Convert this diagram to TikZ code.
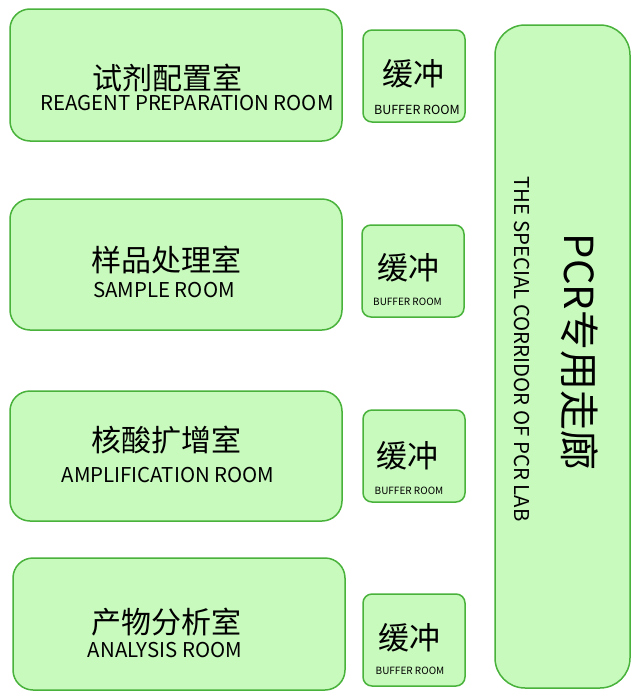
\documentclass[tikz,border=0pt]{standalone}
\usepackage{fontspec}
\setmainfont{Noto Sans CJK SC}
\begin{document}
\begin{tikzpicture}[x=1pt,y=-1pt,
  room/.style={draw=roomline,fill=roomfill,line width=1.5pt,rounded corners=20pt},
  buf/.style={draw=roomline,fill=roomfill,line width=1.5pt,rounded corners=9pt},
  cn/.style={font=\fontsize{30}{33}\selectfont,inner sep=0pt},
  en/.style={font=\fontsize{20.4}{22}\selectfont,inner sep=0pt},
  bcn/.style={font=\fontsize{31}{34}\selectfont,inner sep=0pt},
  ben/.style={font=\fontsize{10}{11}\selectfont,inner sep=0pt}]
\definecolor{roomfill}{RGB}{200,249,189}
\definecolor{roomline}{RGB}{72,178,58}
\useasboundingbox (0,0) rectangle (638,699);
% rooms
\draw[room] (10,9) rectangle (342,141);
\draw[room] (10,199) rectangle (342,330);
\draw[room] (10,391) rectangle (342,521);
\draw[room] (13,558) rectangle (345,690);
\node[cn] (r1c) at (167,78) {试剂配置室};
\node[en] (r1e) at (187,103) {REAGENT PREPARATION ROOM};
\node[cn] (r2c) at (166,260) {样品处理室};
\node[en] (r2e) at (164,290) {SAMPLE ROOM};
\node[cn] (r3c) at (166,440) {核酸扩增室};
\node[en] (r3e) at (168,475) {AMPLIFICATION ROOM};
\node[cn] (r4c) at (166,622) {产物分析室};
\node[en] (r4e) at (165,650) {ANALYSIS ROOM};
% buffers
\draw[buf] (363,30) rectangle (465,122);
\draw[buf] (362,225) rectangle (464,317);
\draw[buf] (363,410) rectangle (465,502);
\draw[buf] (363,594) rectangle (465,686);
\node[bcn] (b1c) at (413,74) {缓冲};
\node[ben,font=\fontsize{12.5}{14}\selectfont] (b1e) at (417,110) {BUFFER ROOM};
\node[bcn] (b2c) at (408,268) {缓冲};
\node[ben] (b2e) at (407.5,302) {BUFFER ROOM};
\node[bcn] (b3c) at (407,456) {缓冲};
\node[ben] (b3e) at (409,491) {BUFFER ROOM};
\node[bcn] (b4c) at (409,638) {缓冲};
\node[ben] (b4e) at (410,671) {BUFFER ROOM};
% corridor
\draw[room,rounded corners=30pt] (495,25) rectangle (630,688);
\node[inner sep=0pt,rotate=-90,font=\fontsize{40}{44}\selectfont] (cc) at (580,352) {PCR专用走廊};
\node[inner sep=0pt,rotate=-90,font=\fontsize{20.4}{22}\selectfont] (ce) at (522,349) {THE SPECIAL CORRIDOR OF PCR LAB};
\end{tikzpicture}
\end{document}
